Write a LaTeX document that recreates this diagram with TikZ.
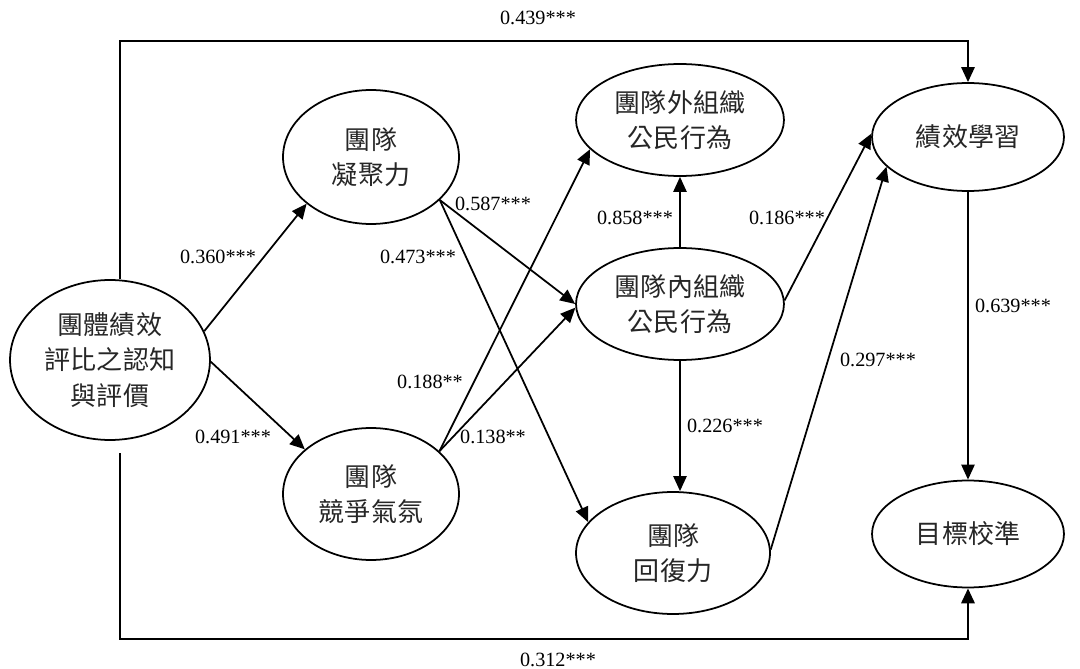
\documentclass[tikz,border=0pt]{standalone}
\usepackage{fontspec}
\setmainfont{Liberation Serif}
\newfontfamily\cjk{Noto Sans CJK TC}
\usetikzlibrary{shapes.geometric,arrows.meta}
\begin{document}
\begin{tikzpicture}[x=0.02cm,y=-0.02cm,
 lat/.style={ellipse,draw,line width=1pt,inner sep=0pt,align=center,text=black!85,font=\cjk\fontsize{14.8}{20}\selectfont},
 lab/.style={font=\fontsize{11.5}{13}\selectfont,inner sep=0pt},
 arr/.style={line width=1pt,-{Triangle[length=8.5pt,width=7.5pt]}},
]
\useasboundingbox (0,0) rectangle (1080,669);
% latent variables
\node[lat,minimum width=4cm,minimum height=3.2cm] (L) at (110,360) {團體績效\\評比之認知\\與評價};
\node[lat,minimum width=3.52cm,minimum height=2.68cm] (coh) at (371,157) {團隊\\凝聚力};
\node[lat,minimum width=3.52cm,minimum height=2.64cm] (comp) at (371,494) {團隊\\競爭氣氛};
\node[lat,minimum width=4.16cm,minimum height=2.24cm] (ext) at (680,120) {團隊外組織\\公民行為};
\node[lat,minimum width=4.16cm,minimum height=2.24cm] (int) at (680,304) {團隊內組織\\公民行為};
\node[lat,minimum width=3.88cm,minimum height=2.44cm] (res) at (673,553) {團隊\\回復力};
\node[lat,minimum width=3.84cm,minimum height=2.16cm] (perf) at (968,137) {績效學習};
\node[lat,minimum width=3.84cm,minimum height=2.14cm] (goal) at (968,534) {目標校準};
% frame paths
\coordinate (tl) at (120,41);
\coordinate (bl) at (120,453);
\coordinate (br) at (120,639);
\draw[arr,line width=1.2pt] (L.north -| tl) -- (tl) -| (perf.north);
\draw[arr,line width=1.5pt] (bl) -- (br) -| (goal.south);
% paths
\draw[arr] (L.17.5) -- (coh.216);
\draw[arr] (L.-1) -- (comp.146.7);
\draw[arr] (coh.-32) -- (int.180.5);
\draw[arr] (coh.-32) -- (res.160.6);
\draw[arr] (comp.32.5) -- (ext.198.6);
\draw[arr] (comp.32.5) -- (int.182);
\draw[arr] (int.north) -- (ext.south);
\draw[arr] (int.south) -- (int.south |- res.north);
\draw[arr] (int.2) -- (perf.178);
\draw[arr] (res.2) -- (perf.200);
\draw[arr] (perf.south) -- (goal.north);
% labels
\node[lab] (l439) at (538,18) {0.439***};
\node[lab] (l312) at (558,660) {0.312***};
\node[lab] (l360) at (218,257) {0.360***};
\node[lab] (l491) at (233,437) {0.491***};
\node[lab] (l473) at (418,257) {0.473***};
\node[lab] (l587) at (493,204) {0.587***};
\node[lab] (l188) at (430,382) {0.188**};
\node[lab] (l138) at (493,437) {0.138**};
\node[lab] (l858) at (635,218) {0.858***};
\node[lab] (l186) at (787,218) {0.186***};
\node[lab] (l226) at (725,426) {0.226***};
\node[lab] (l297) at (878,360) {0.297***};
\node[lab] (l639) at (1013,306) {0.639***};
\end{tikzpicture}
\end{document}
